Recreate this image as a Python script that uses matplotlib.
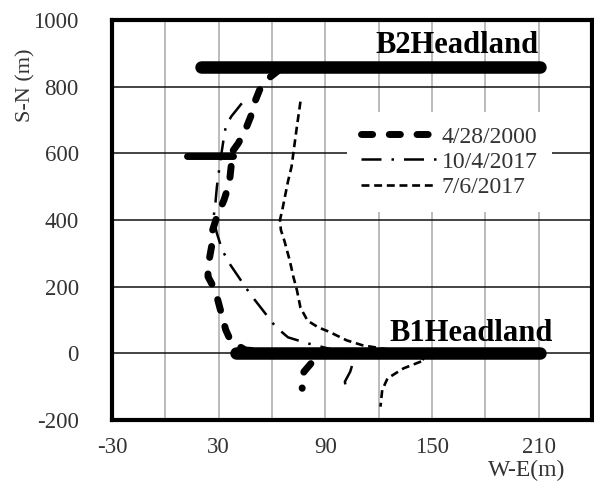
import matplotlib
matplotlib.use("Agg")
import matplotlib.pyplot as plt

plt.rcParams['font.family'] = ['Liberation Serif', 'DejaVu Serif']
plt.rcParams['axes.unicode_minus'] = False

# shoreline positions (W-E, S-N in metres)
x_2000 = [64, 58, 53, 50, 48, 45, 41, 37, 37, 36, 33, 29, 26, 26, 25, 24, 24, 28, 30, 32, 34, 37, 45, 65, 84, 82, 78, 76, 77]
y_2000 = [850, 825, 790, 750, 710, 670, 630, 600, 560, 510, 460, 410, 360, 320, 290, 260, 230, 190, 150, 110, 70, 35, 10, 2, -8, -30, -55, -80, -105]
spur_x = [12, 38]
spur_y = [592, 592]

x_oct17 = [43, 37, 34, 33, 31, 29, 28, 27, 29, 32, 36, 43, 48, 54, 62, 69, 80, 95, 106, 104, 101, 102]
y_oct17 = [750, 710, 680, 650, 580, 500, 440, 405, 360, 310, 270, 215, 176, 135, 80, 48, 30, 10, -20, -55, -85, -120]

x_jul17 = [76, 74, 72, 71, 69, 66, 64.5, 65, 67, 70, 72, 74, 76, 80, 86, 92, 102, 111, 125, 140, 146, 134, 125, 122, 121]
y_jul17 = [755, 680, 600, 560, 516, 436, 400, 370, 337, 278, 230, 190, 137, 98, 78, 65, 39, 24, 12, 0, -20, -45, -75, -110, -160]

# headlands
b1_x = [40, 211]
b1_y = [0, 0]
b2_x = [20, 211]
b2_y = [860, 860]

labels = ['4/28/2000', '10/4/2017', '7/6/2017']
xticks_major = [-30, 30, 90, 150, 210]
xticks_minor = [0, 60, 120, 180, 240]
yticks = [-200, 0, 200, 400, 600, 800, 1000]

fig = plt.figure(figsize=(5.94, 4.83), dpi=100)
ax = fig.add_axes([112 / 594, 63 / 483, 480 / 594, 400 / 483])

ax.plot(b2_x, b2_y, color='black', lw=9, solid_capstyle='round', zorder=3)
ax.plot(b1_x, b1_y, color='black', lw=9, solid_capstyle='round', zorder=3)

l1, = ax.plot(x_2000, y_2000, color='black', lw=5, linestyle=(0, (1.6, 2.4)),
              dash_capstyle='round', label=labels[0], zorder=4)
ax.plot(spur_x, spur_y, color='black', lw=5, solid_capstyle='round', zorder=4)
l2, = ax.plot(x_oct17, y_oct17, color='black', lw=1.8, linestyle=(0, (8, 4, 1, 4)),
              label=labels[1], zorder=4)
l3, = ax.plot(x_jul17, y_jul17, color='black', lw=1.9, linestyle=(0, (3, 1.8)),
              label=labels[2], zorder=4)

ax.text(164, 922, 'B2Headland', fontsize=22, fontweight='bold', ha='center', va='center')
ax.text(172, 60, 'B1Headland', fontsize=22, fontweight='bold', ha='center', va='center')

ax.set_xlim(-30, 240)
ax.set_ylim(-200, 1000)
ax.set_xticks(xticks_major)
ax.set_xticks(xticks_minor, minor=True)
ax.set_yticks(yticks)
ax.grid(axis='x', which='both', color='#b0b0b0', lw=1.2)
ax.grid(axis='y', which='major', color='#111111', lw=1.1)
ax.set_axisbelow(True)
ax.tick_params(axis='both', which='both', length=0, labelsize=16.5, labelcolor='#333333')
ax.tick_params(axis='y', pad=24)
ax.tick_params(axis='x', pad=12)
for s in ax.spines.values():
    s.set_linewidth(3)
    s.set_color('black')

fig.text(26 / 594, 1 - 85 / 483, 'S-N (m)', rotation=90, fontsize=16, color='#333333',
         ha='center', va='center')
fig.text(527 / 594, 1 - 470 / 483, 'W-E(m)', fontsize=17, color='#333333',
         ha='center', va='center')

leg = ax.legend(handles=[l1, l2, l3], loc='center left', bbox_to_anchor=(0.49, 0.645),
                fontsize=17, handlelength=3.2, handletextpad=0.2, labelspacing=0.15,
                borderaxespad=0, borderpad=0.6, frameon=True, fancybox=False)
leg.get_frame().set_facecolor('white')
leg.get_frame().set_edgecolor('none')
leg.get_frame().set_alpha(1)
for t in leg.get_texts():
    t.set_color('#333333')

plt.savefig('out.png', dpi=100)
plt.close()
